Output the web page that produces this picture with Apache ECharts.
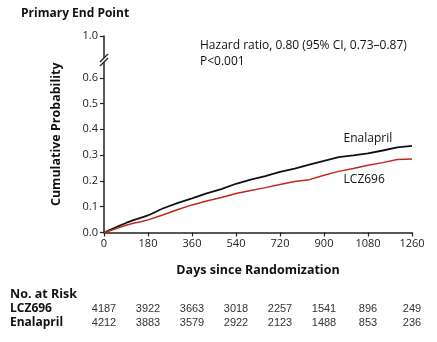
<!DOCTYPE html>
<html><head><meta charset="utf-8">
<script src="https://cdn.jsdelivr.net/npm/echarts@6/dist/echarts.min.js"></script>
<style>html,body{margin:0;padding:0;background:#fff}#c{width:437px;height:342px}</style>
</head><body><div id="c"></div>
<script>
const days = [0,30,60,90,120,150,180,240,300,360,420,480,540,600,660,720,780,840,900,960,1020,1080,1140,1200,1260];
const enalapril = [0,0.012,0.025,0.037,0.048,0.057,0.066,0.093,0.114,0.132,0.152,0.168,0.189,0.205,0.219,0.235,0.248,0.263,0.278,0.292,0.299,0.307,0.318,0.330,0.336];
const lcz696 = [0,0.009,0.018,0.028,0.036,0.042,0.049,0.068,0.088,0.107,0.122,0.136,0.151,0.163,0.174,0.186,0.198,0.205,0.222,0.237,0.248,0.261,0.271,0.283,0.285];
const xTicks = [0,180,360,540,720,900,1080,1260];
const yTickValues = [0,0.1,0.2,0.3,0.4,0.5,0.6,0.762];
const yTickLabels = ['0.0','0.1','0.2','0.3','0.4','0.5','0.6','1.0'];
const riskDays = [0,180,360,540,720,900,1080,1260];
const riskLCZ = [4187,3922,3663,3018,2257,1541,896,249];
const riskEna = [4212,3883,3579,2922,2123,1488,853,236];
const seriesNames = ['Enalapril','LCZ696'];

const chart = echarts.init(document.getElementById('c'), null, {renderer:'canvas'});
const font = 'Open Sans';
chart.setOption({
  animation:false,
  grid:{left:104,right:25,top:36,bottom:109.5,containLabel:false},
  xAxis:{type:'value',min:0,max:1260,interval:180,
    name:'Days since Randomization',nameLocation:'middle',nameGap:31,
    nameTextStyle:{fontFamily:font,fontWeight:'bold',fontSize:12.5,color:'#111'},
    axisLine:{lineStyle:{color:'#222',width:1.5}},
    axisTick:{length:4,customValues:xTicks,lineStyle:{color:'#222',width:1.2}},
    axisLabel:{fontFamily:font,fontSize:11,color:'#222',margin:6,customValues:xTicks,formatter:v=>String(v)},
    splitLine:{show:false}},
  yAxis:{type:'value',min:0,max:0.762,
    name:'Cumulative Probability',nameLocation:'middle',nameGap:41,nameRotate:90,
    nameTextStyle:{fontFamily:font,fontWeight:'bold',fontSize:12.5,color:'#111'},
    axisLine:{show:true,lineStyle:{color:'#222',width:1.5}},
    axisTick:{show:true,length:4,customValues:yTickValues,lineStyle:{color:'#222',width:1.2}},
    axisLabel:{fontFamily:font,fontSize:11,color:'#222',margin:6,customValues:yTickValues,
      formatter:function(v){const i=yTickValues.findIndex(t=>Math.abs(t-v)<1e-6);return i>=0?yTickLabels[i]:'';}},
    splitLine:{show:false}},
  series:[
    {name:seriesNames[0],type:'line',data:days.map((d,i)=>[d,enalapril[i]]),symbol:'none',
     lineStyle:{color:'#111',width:1.8}},
    {name:seriesNames[1],type:'line',data:days.map((d,i)=>[d,lcz696[i]]),symbol:'none',
     lineStyle:{color:'#c0281e',width:1.5}}
  ]
});

const px = d => chart.convertToPixel({xAxisIndex:0}, d);
const py = v => chart.convertToPixel({yAxisIndex:0}, v);
const g = [];
const x0 = px(0), yb = py(0.669);
g.push({type:'rect',shape:{x:x0-2,y:yb-2,width:4,height:4},style:{fill:'#fff'},z:100});
g.push({type:'line',shape:{x1:x0-4,y1:yb+2,x2:x0+4,y2:yb-6},style:{stroke:'#222',lineWidth:1.2},z:101});
g.push({type:'line',shape:{x1:x0-4,y1:yb+6,x2:x0+4,y2:yb-2},style:{stroke:'#222',lineWidth:1.2},z:101});
g.push({type:'text',left:21,top:8,style:{text:'Primary End Point',font:'bold 12px "Open Sans"',fill:'#111'}});
g.push({type:'text',left:200,top:38,style:{text:'Hazard ratio, 0.80 (95% CI, 0.73\u20130.87)\nP<0.001',font:'12px "Open Sans"',fill:'#111',lineHeight:16}});
g.push({type:'text',x:px(980),y:py(0.364),style:{text:seriesNames[0],font:'12px "Open Sans"',fill:'#111',verticalAlign:'middle'}});
g.push({type:'text',x:px(980),y:py(0.205),style:{text:seriesNames[1],font:'12px "Open Sans"',fill:'#111',verticalAlign:'middle'}});
g.push({type:'text',x:10,y:294,style:{text:'No. at Risk',font:'bold 12.5px "Open Sans"',fill:'#111',verticalAlign:'middle'}});
g.push({type:'text',x:10,y:309,style:{text:seriesNames[1],font:'bold 12px "Open Sans"',fill:'#111',verticalAlign:'middle'}});
g.push({type:'text',x:10,y:323,style:{text:seriesNames[0],font:'bold 12px "Open Sans"',fill:'#111',verticalAlign:'middle'}});
riskDays.forEach((d,i)=>{
  g.push({type:'text',x:px(d),y:309,style:{text:String(riskLCZ[i]),font:'11px "Liberation Sans"',fill:'#333',align:'center',verticalAlign:'middle'}});
  g.push({type:'text',x:px(d),y:323,style:{text:String(riskEna[i]),font:'11px "Liberation Sans"',fill:'#333',align:'center',verticalAlign:'middle'}});
});
chart.setOption({graphic:g});
</script></body></html>
